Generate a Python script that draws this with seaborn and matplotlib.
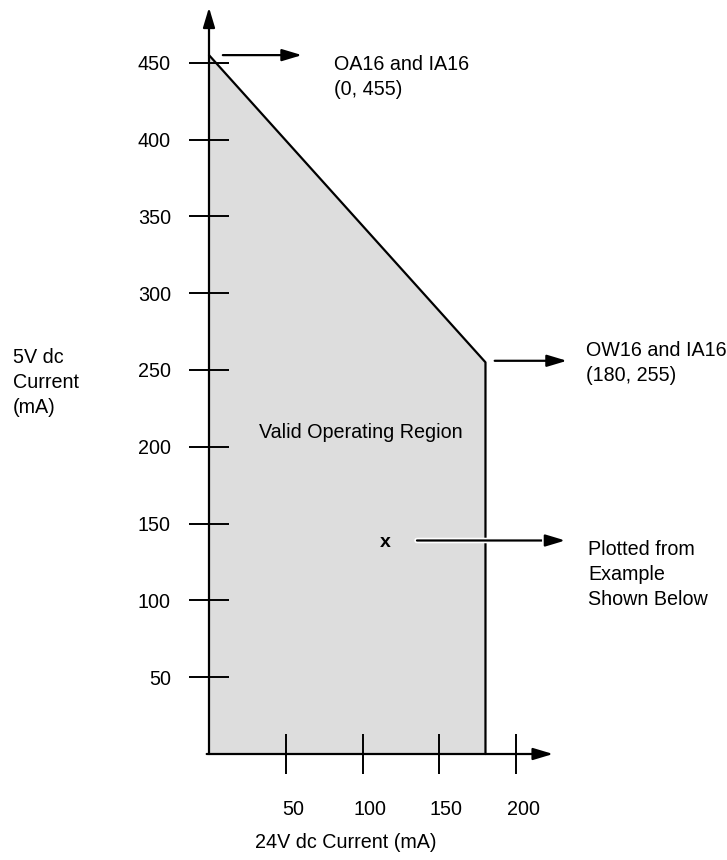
import numpy as np
import pandas as pd
import seaborn as sns
import matplotlib.pyplot as plt
from matplotlib import patheffects
from matplotlib.transforms import ScaledTranslation

# boundary of the valid region (24V current, 5V current)
boundary_x = [0, 180, 180]
boundary_y = [455, 255, 0]

x_ticks = [50, 100, 150, 200]
y_ticks = [50, 100, 150, 200, 250, 300, 350, 400, 450]

example_point = (115, 138)

label_top = "OA16 and IA16\n(0, 455)"
label_right = "OW16 and IA16\n(180, 255)"
label_example = "Plotted from\nExample\nShown Below"
region_text = "Valid Operating Region"
x_title = "24V dc Current (mA)"
y_title = "5V dc\nCurrent\n(mA)"

sns.set_theme(style="white")
plt.rcParams["font.family"] = ["Liberation Sans", "DejaVu Sans"]
plt.rcParams["font.size"] = 14.2
plt.rcParams["text.color"] = "black"
FS = 14.2
LS = 1.4

fig = plt.figure(figsize=(7.27, 8.6), dpi=100)
ax = fig.add_axes([0, 0, 1, 1])
ax.set_axisbelow(False)

# pixel mapping: x=0 at 209px, y=0 at 754px from top, 1.536 px per mA
scale = 1.536
ax.set_xlim(-209 / scale, (727 - 209) / scale)
ax.set_ylim(-(860 - 754) / scale, 754 / scale)

# shaded region + boundary
ax.fill_between(boundary_x, boundary_y, 0, color="#dddddd", lw=0, zorder=1)
df = pd.DataFrame({"x": boundary_x, "y": boundary_y})
sns.lineplot(data=df, x="x", y="y", sort=False, estimator=None, color="black",
             lw=1.6, ax=ax, zorder=3)

# axes with arrow heads
arrow_kw = dict(arrowstyle="-|>,head_length=1.2,head_width=0.36", mutation_scale=10,
                color="black", lw=1.6, shrinkA=0, shrinkB=0)
ax.annotate("", xy=(0, 486), xytext=(0, 0), arrowprops=arrow_kw, zorder=4)
ax.annotate("", xy=(224, 0), xytext=(-1.5, 0), arrowprops=arrow_kw, zorder=4)

for s in ax.spines.values():
    s.set_visible(False)
ax.spines["left"].set_position(("data", 0))
ax.spines["bottom"].set_position(("data", 0))

ax.set_xticks(x_ticks)
ax.set_yticks(y_ticks)
ax.tick_params(axis="both", which="major", direction="inout", length=28.8, width=1.4,
               color="black", labelsize=FS, labelcolor="black",
               bottom=True, left=True, top=False, right=False)
ax.tick_params(axis="y", pad=13)
ax.tick_params(axis="x", pad=19)
offset = ScaledTranslation(0.07, 0, fig.dpi_scale_trans)
for lbl in ax.xaxis.get_majorticklabels():
    lbl.set_transform(lbl.get_transform() + offset)
ax.set_xlabel("")
ax.set_ylabel("")
ax.grid(False)

# annotations (va="baseline" sits on the last line's baseline)
ax.annotate("", xy=(60.5, 455), xytext=(9, 455), arrowprops=arrow_kw, zorder=4)
ax.text(81.4, 429, label_top, ha="left", va="baseline", linespacing=LS)

ax.annotate("", xy=(233, 256), xytext=(186, 256), arrowprops=arrow_kw, zorder=4)
ax.text(245.4, 243, label_right, ha="left", va="baseline", linespacing=LS)

ax.text(example_point[0], example_point[1], "x", ha="center", va="center",
        fontsize=14, fontweight="bold", zorder=5)
ex_arrow = ax.annotate("", xy=(232, 139), xytext=(135.4, 139), arrowprops=arrow_kw, zorder=4)
ex_arrow.arrow_patch.set_path_effects([patheffects.withStroke(linewidth=4, foreground="white")])
ax.text(246.7, 97, label_example, ha="left", va="baseline", linespacing=LS)

ax.text(99, 206, region_text, ha="center", va="baseline")
ax.text(30, -61, x_title, ha="left", va="baseline")
ax.text(-127.6, 222, y_title, ha="left", va="baseline", linespacing=LS)

fig.savefig("out.png", dpi=100)
